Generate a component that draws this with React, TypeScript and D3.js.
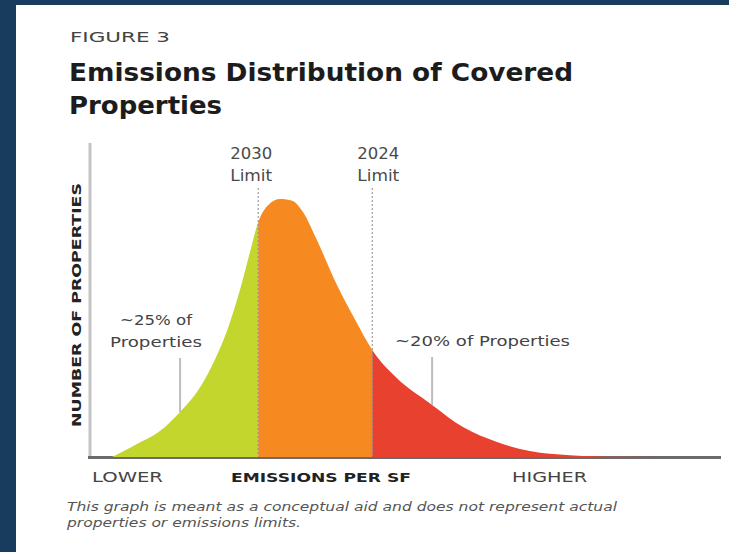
import React from "react";
import * as d3 from "d3";

// Conceptual distribution: emissions per SF (0-100 index) vs number of properties (0-100 index)
const emissions = [3.5, 7.1, 11.1, 14.3, 17.5, 19.8, 21.9, 23.8, 25.4, 26.7, 28.3, 30.2, 32.1, 33.8, 36.0, 39.2, 42.1, 44.8, 48.7, 54.3, 59.2, 64.6, 69.8, 76.2, 84.1, 95.2];
const properties = [0, 3.8, 8.3, 14.4, 22.4, 31.1, 41.3, 53.5, 65.7, 75.3, 80.8, 82.7, 82.1, 78.5, 69.6, 55.1, 43.9, 34.3, 25.3, 16.7, 9.6, 4.8, 1.9, 0.6, 0.1, 0];

const limitYears = ["2030", "2024"];
const limitValues = [26.7, 44.8];

const calloutLabels = [["~25% of", "Properties"], ["~20% of Properties"]];
const calloutX = [14.3, 54.3];

const axisLabels = ["LOWER", "EMISSIONS PER SF", "HIGHER"];
const segmentColors = ["#c3d62d", "#f6891f", "#e9412f"];

const W = 729;
const H = 552;
const FONT = "'DejaVu Sans', 'Open Sans', sans-serif";

export default function App() {
  const x = d3.scaleLinear().domain([0, 100]).range([90, 720]);
  const y = d3.scaleLinear().domain([0, 100]).range([457, 145]);
  const pts = emissions.map((e, i) => [e, properties[i]] as [number, number]);
  const area = d3
    .area<[number, number]>()
    .x((d) => x(d[0]))
    .y0(y(0))
    .y1((d) => y(d[1]))
    .curve(d3.curveMonotoneX);
  const areaPath = area(pts) || "";

  const bounds = [0, limitValues[0], limitValues[1], 100];
  const curveAt = (v: number) => {
    const i = emissions.findIndex((e) => e >= v);
    if (i <= 0) return properties[0];
    const t = (v - emissions[i - 1]) / (emissions[i] - emissions[i - 1]);
    return properties[i - 1] + t * (properties[i] - properties[i - 1]);
  };

  const fit = { lengthAdjust: "spacingAndGlyphs" as const };

  return (
    <svg width={W} height={H} style={{ position: "absolute", left: 0, top: 0 }} fontFamily={FONT}>
      <rect x={0} y={0} width={W} height={H} fill="#173c5d" />
      <rect x={16} y={5} width={W - 16} height={H - 5} fill="#ffffff" />

      <text x={70} y={42} fontSize={14} fill="#444" textLength={100} {...fit}>
        FIGURE 3
      </text>
      <text x={69} y={81} fontSize={24} fontWeight={700} fill="#1c1c1c" textLength={504} {...fit}>
        Emissions Distribution of Covered
      </text>
      <text x={69} y={114} fontSize={24} fontWeight={700} fill="#1c1c1c" textLength={153} {...fit}>
        Properties
      </text>

      <defs>
        {segmentColors.map((c, i) => (
          <clipPath id={`seg${i}`} key={i}>
            <rect x={x(bounds[i])} y={0} width={x(bounds[i + 1]) - x(bounds[i])} height={H} />
          </clipPath>
        ))}
      </defs>

      {/* axes */}
      <line x1={90} x2={90} y1={143} y2={457} stroke="#c4c4c4" strokeWidth={3} />
      <line x1={88} x2={721} y1={457.5} y2={457.5} stroke="#6b6b6b" strokeWidth={3} />

      {segmentColors.map((c, i) => (
        <path key={i} d={areaPath} fill={c} clipPath={`url(#seg${i})`} />
      ))}

      {/* limit lines */}
      {limitValues.map((v, i) => (
        <g key={i}>
          <line x1={x(v)} x2={x(v)} y1={188} y2={456} stroke="#8a8a8a" strokeWidth={1} strokeDasharray="2,2" />
          <text x={x(v) + (i === 0 ? -7 : 6)} y={159} fontSize={15} fill="#4a4a4a" textAnchor="middle" textLength={42} {...fit}>
            {limitYears[i]}
          </text>
          <text x={x(v) + (i === 0 ? -7 : 6)} y={181} fontSize={15} fill="#4a4a4a" textAnchor="middle" textLength={42} {...fit}>
            Limit
          </text>
        </g>
      ))}

      {/* callouts */}
      <text x={120} y={325} fontSize={14} fill="#444" textLength={72} {...fit}>
        {calloutLabels[0][0]}
      </text>
      <text x={110} y={347} fontSize={14} fill="#444" textLength={92} {...fit}>
        {calloutLabels[0][1]}
      </text>
      <line x1={x(calloutX[0])} x2={x(calloutX[0])} y1={358} y2={y(curveAt(calloutX[0]))} stroke="#bdbdbd" strokeWidth={2} />

      <text x={395} y={346} fontSize={14} fill="#444" textLength={175} {...fit}>
        {calloutLabels[1][0]}
      </text>
      <line x1={x(calloutX[1])} x2={x(calloutX[1])} y1={357} y2={y(curveAt(calloutX[1]))} stroke="#bdbdbd" strokeWidth={2} />

      {/* y title */}
      <text
        transform="translate(81,305) rotate(-90)"
        fontSize={12}
        fontWeight={700}
        fill="#222"
        textAnchor="middle"
        textLength={244}
        {...fit}
      >
        NUMBER OF PROPERTIES
      </text>

      {/* x labels */}
      <text x={92} y={482} fontSize={14} fill="#444" textLength={71} {...fit}>
        {axisLabels[0]}
      </text>
      <text x={231} y={482} fontSize={13} fontWeight={700} fill="#222" textLength={180} {...fit}>
        {axisLabels[1]}
      </text>
      <text x={512} y={482} fontSize={14} fill="#444" textLength={75} {...fit}>
        {axisLabels[2]}
      </text>

      {/* footnote */}
      <text x={67} y={511} fontSize={12} fontStyle="italic" fill="#555" textLength={550} {...fit}>
        This graph is meant as a conceptual aid and does not represent actual
      </text>
      <text x={67} y={527} fontSize={12} fontStyle="italic" fill="#555" textLength={234} {...fit}>
        properties or emissions limits.
      </text>
    </svg>
  );
}
